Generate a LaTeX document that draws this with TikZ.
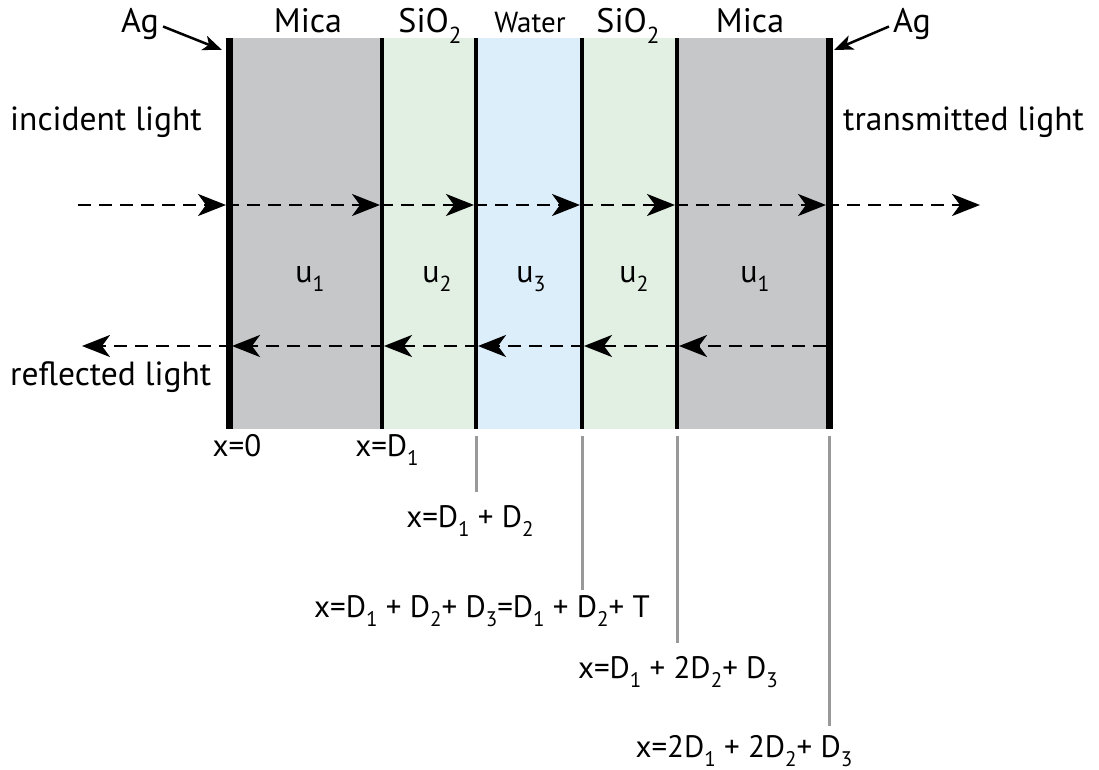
\documentclass[tikz,border=0pt]{standalone}
\usepackage{fontspec}
\setmainfont{PT Sans}
\usepackage{graphicx}
\usetikzlibrary{arrows.meta}
\definecolor{micac}{HTML}{C6C7C9}
\definecolor{sioc}{HTML}{E2EFE3}
\definecolor{waterc}{HTML}{DDEEFB}
\definecolor{tickc}{HTML}{999999}
\newcommand\sbs[1]{\raisebox{-0.3em}{\scalebox{0.68}{#1}}}
\begin{document}
\begin{tikzpicture}[x=1pt,y=-1pt,
  lbl/.style={font=\fontsize{34}{40}\selectfont, inner sep=0pt},
  side/.style={font=\fontsize{33.5}{40}\selectfont, inner sep=0pt},
  ulbl/.style={font=\fontsize{32}{36}\selectfont, inner sep=0pt},
  sml/.style={font=\fontsize{29}{34}\selectfont, inner sep=0pt},
  eq/.style={font=\fontsize{31}{36}\selectfont, inner sep=0pt},
  ray/.style={dash pattern=on 13pt off 8pt, line width=2.8pt, -{Stealth[length=28pt,width=22pt,inset=8pt]}},
  agarrow/.style={line width=2.5pt, -{Stealth[length=19pt,width=15pt,inset=5pt]}},
  bound/.style={line width=3.5pt},
  agline/.style={line width=7pt},
  tickline/.style={tickc, line width=3pt}]
\useasboundingbox (0,0) rectangle (1099,770);
% layers
\fill[micac] (229,38) rectangle (382,429);
\fill[sioc] (382,38) rectangle (476,429);
\fill[waterc] (476,38) rectangle (582,429);
\fill[sioc] (582,38) rectangle (677,429);
\fill[micac] (677,38) rectangle (829,429);
% boundaries
\draw[agline] (229,38) -- (229,429);
\draw[agline] (829,38) -- (829,429);
\foreach \bx in {382,476,582,677} \draw[bound] (\bx,38) -- (\bx,429);
% drop lines
\draw[tickline] (476,436) -- (476,492);
\draw[tickline] (582,436) -- (582,590);
\draw[tickline] (677,436) -- (677,643);
\draw[tickline] (829,436) -- (829,726);
% coordinates for rays
\coordinate (i0) at (78,205);
\coordinate (i1) at (226,205);
\coordinate (i2) at (380,205);
\coordinate (i3) at (474,205);
\coordinate (i4) at (580,205);
\coordinate (i5) at (675,205);
\coordinate (i6) at (826,205);
\coordinate (i7) at (980,205);
\coordinate (r0) at (82,346);
\coordinate (r1) at (232,346);
\coordinate (r2) at (384,346);
\coordinate (r3) at (478,346);
\coordinate (r4) at (584,346);
\coordinate (r5) at (679,346);
\coordinate (r6) at (826,346);
\draw[ray] (i0) -- (i1);
\draw[ray] (i1) -- (i2);
\draw[ray] (i2) -- (i3);
\draw[ray] (i3) -- (i4);
\draw[ray] (i4) -- (i5);
\draw[ray] (i5) -- (i6);
\draw[ray] (i6) -- (i7);
\draw[ray] (r6) -- (r5);
\draw[ray] (r5) -- (r4);
\draw[ray] (r4) -- (r3);
\draw[ray] (r3) -- (r2);
\draw[ray] (r2) -- (r1);
\draw[ray] (r1) -- (r0);
% top labels
\node[lbl, anchor=base] (agl) at (140,33) {Ag};
\node[lbl, anchor=base] (ag r) at (912,33) {Ag};
\coordinate (agltip) at (222,50);
\coordinate (agrtip) at (834,50);
\draw[agarrow] (agl.east) ++(4,2) coordinate (aglst) -- (agltip);
\draw[agarrow] (ag r.west) ++(-4,2) coordinate (agrst) -- (agrtip);
\node[lbl, anchor=base] (mica1) at (308,33) {Mica};
\node[lbl, anchor=base] (sio1) at (430,33) {SiO\sbs{2}};
\node[sml, anchor=base] (water) at (530,33) {Water};
\node[lbl, anchor=base] (sio2) at (628,33) {SiO\sbs{2}};
\node[lbl, anchor=base] (mica2) at (750,33) {Mica};
% side labels
\node[side, anchor=base west] (inc) at (10,131) {incident light};
\node[side, anchor=base west] (trans) at (843,131) {transmitted light};
\node[side, anchor=base west] (refl) at (10,385) {reflected light};
% u labels
\node[ulbl, anchor=base] (u1a) at (310,282) {u\sbs{1}};
\node[ulbl, anchor=base] (u2a) at (437,282) {u\sbs{2}};
\node[ulbl, anchor=base] (u3) at (531,282) {u\sbs{3}};
\node[ulbl, anchor=base] (u2b) at (634,282) {u\sbs{2}};
\node[ulbl, anchor=base] (u1b) at (755,282) {u\sbs{1}};
% position labels
\node[eq, anchor=base] (p0) at (237,456) {x=0};
\node[eq, anchor=base] (p1) at (387,456) {x=D\sbs{1}};
\node[eq, anchor=base] (p2) at (470,527) {x=D\sbs{1} + D\sbs{2}};
\node[eq, anchor=base] (p3) at (482,617) {x=D\sbs{1} + D\sbs{2}+ D\sbs{3}=D\sbs{1} + D\sbs{2}+ T};
\node[eq, anchor=base] (p4) at (678,678) {x=D\sbs{1} + 2D\sbs{2}+ D\sbs{3}};
\node[eq, anchor=base] (p5) at (744,757) {x=2D\sbs{1} + 2D\sbs{2}+ D\sbs{3}};
\end{tikzpicture}
\end{document}
